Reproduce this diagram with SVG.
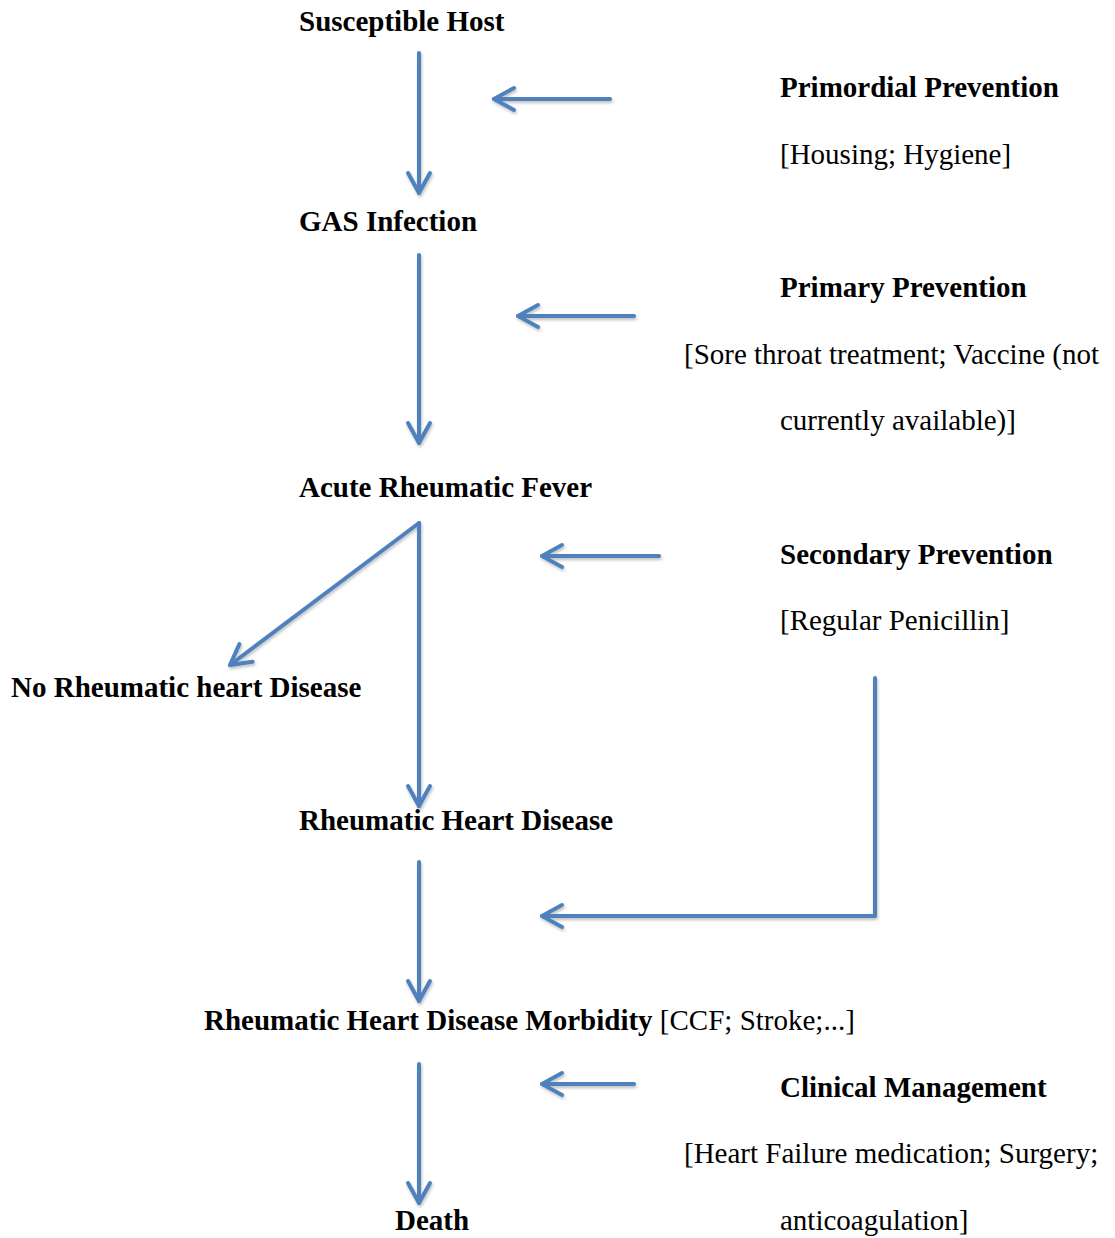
<svg xmlns="http://www.w3.org/2000/svg" width="1115" height="1238" viewBox="0 0 1115 1238">
<style>
text{font-family:"Liberation Serif","Times New Roman",serif;font-size:29px;fill:#000}
.b{font-weight:bold}
.c{fill:none;stroke:#4F81BD;stroke-width:4;stroke-linecap:round;stroke-linejoin:round}
</style>
<defs>
<filter id="sh" x="-20%" y="-20%" width="140%" height="140%">
<feDropShadow dx="1" dy="2" stdDeviation="1.5" flood-color="#000" flood-opacity="0.25"/>
</filter>
<marker id="ah" markerUnits="userSpaceOnUse" markerWidth="30" markerHeight="30" viewBox="-24 -15 28 30" refX="0" refY="0" orient="auto">
<path d="M-20,-11 L0,0 L-20,11" fill="none" stroke="#4F81BD" stroke-width="4" stroke-linecap="round" stroke-linejoin="round"/>
</marker>
</defs>
<rect width="1115" height="1238" fill="#fff"/>
<g id="connectors" filter="url(#sh)">
<path class="c" d="M419,53 L419,193" marker-end="url(#ah)"/>
<path class="c" d="M419,255 L419,443" marker-end="url(#ah)"/>
<path class="c" d="M419,523 L419,806" marker-end="url(#ah)"/>
<path class="c" d="M419,523 L230,665" marker-end="url(#ah)"/>
<path class="c" d="M419,862 L419,1001" marker-end="url(#ah)"/>
<path class="c" d="M419,1064 L419,1203" marker-end="url(#ah)"/>
<path class="c" d="M610,99 L494,99" marker-end="url(#ah)"/>
<path class="c" d="M634,316 L518,316" marker-end="url(#ah)"/>
<path class="c" d="M659,556 L542,556" marker-end="url(#ah)"/>
<path class="c" d="M875,678 L875,916 L542,916" marker-end="url(#ah)"/>
<path class="c" d="M634,1084 L542,1084" marker-end="url(#ah)"/>
</g>
<g id="susceptible-host"><text class="b" x="299" y="31">Susceptible Host</text></g>
<g id="gas-infection"><text class="b" x="299" y="231">GAS Infection</text></g>
<g id="acute-rheumatic-fever"><text class="b" x="299" y="497">Acute Rheumatic Fever</text></g>
<g id="no-rhd"><text class="b" x="11" y="697">No Rheumatic heart Disease</text></g>
<g id="rhd"><text class="b" x="299" y="830">Rheumatic Heart Disease</text></g>
<g id="rhd-morbidity"><text x="204" y="1030"><tspan class="b">Rheumatic Heart Disease Morbidity</tspan> [CCF; Stroke;...]</text></g>
<g id="death"><text class="b" x="395" y="1230">Death</text></g>
<g id="primordial-prevention">
<text class="b" x="780" y="97">Primordial Prevention</text>
<text x="780" y="164">[Housing; Hygiene]</text>
</g>
<g id="primary-prevention">
<text class="b" x="780" y="297">Primary Prevention</text>
<text x="684" y="364">[Sore throat treatment; Vaccine (not</text>
<text x="780" y="430">currently available)]</text>
</g>
<g id="secondary-prevention">
<text class="b" x="780" y="564">Secondary Prevention</text>
<text x="780" y="630">[Regular Penicillin]</text>
</g>
<g id="clinical-management">
<text class="b" x="780" y="1097">Clinical Management</text>
<text x="684" y="1163">[Heart Failure medication; Surgery;</text>
<text x="780" y="1230">anticoagulation]</text>
</g>
</svg>
